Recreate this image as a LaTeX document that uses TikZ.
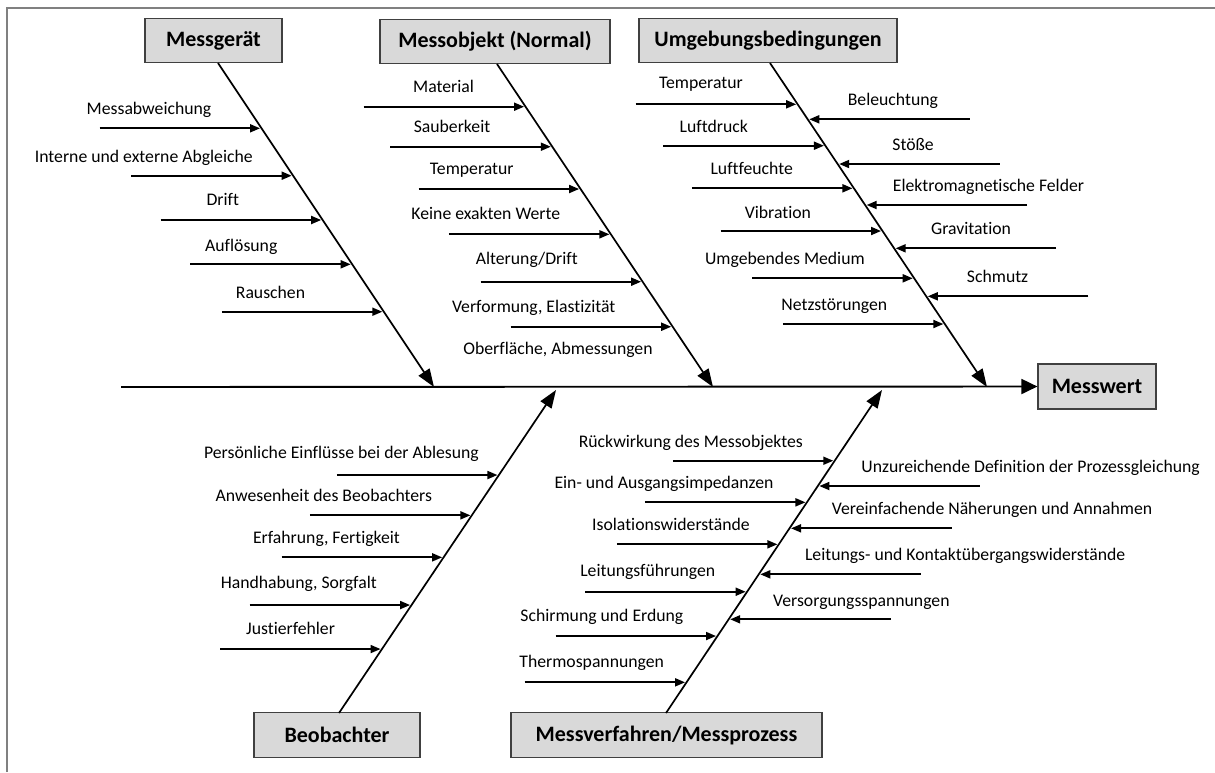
\documentclass[tikz,border=0pt]{standalone}
\usepackage{fontspec}
\setmainfont[Ligatures=NoCommon]{Carlito}
\usetikzlibrary{arrows.meta}
\begin{document}
\begin{tikzpicture}[x=1pt,y=-1pt,
    frame/.style={draw=black!50,line width=2pt},
    head/.style={draw=black!75,fill=black!15,line width=1.2pt,font=\bfseries\fontsize{22}{26}\selectfont},
    bone/.style={line width=1.7pt,-{Triangle[length=18pt,width=13pt]}},
    spine/.style={line width=1.9pt,-{Triangle[length=16pt,width=15pt]}},
    cause/.style={line width=1.8pt,shorten >=1.5pt,-{Triangle[length=10pt,width=8pt]}},
    lbl/.style={anchor=base,inner sep=0pt,font=\fontsize{17.7}{20}\selectfont}]
    \useasboundingbox (0,0) rectangle (1215,772);
    \draw[frame] (7,772) -- (7,8) -- (1215,8);

    % Kopf und Hauptgraete
    \node[head,minimum width=118pt,minimum height=45pt] (mw) at (1097,386.5) {Messwert};
    \coordinate (sp) at (121,387);
    \draw[spine] (sp) -- (mw.west);

    % Kategorien
    \node[head,minimum width=137pt,minimum height=44.5pt] (mg) at (213.5,40.5) {Messgerät};
    \node[head,minimum width=230pt,minimum height=44.5pt] (mo) at (495,41.5) {Messobjekt (Normal)};
    \node[head,minimum width=258pt,minimum height=44.5pt] (ub) at (768,40.5) {Umgebungsbedingungen};
    \node[head,minimum width=166pt,minimum height=44.5pt] (be) at (337,735) {Beobachter};
    \node[head,minimum width=311pt,minimum height=44.5pt] (mv) at (666.5,735) {Messverfahren/Messprozess};

    \coordinate (mgA) at (218,63);   \coordinate (mgB) at (434,387);
    \coordinate (moA) at (497,64);   \coordinate (moB) at (713,387);
    \coordinate (ubA) at (770,63);   \coordinate (ubB) at (987,387);
    \coordinate (beA) at (339,713);  \coordinate (beB) at (556,390);
    \coordinate (mvA) at (666,713);  \coordinate (mvB) at (882,390);
    \draw[bone] (mgA) -- (mgB);
    \draw[bone] (moA) -- (moB);
    \draw[bone] (ubA) -- (ubB);
    \draw[bone] (beA) -- (beB);
    \draw[bone] (mvA) -- (mvB);

    % Messgeraet
    \coordinate (g1) at (intersection of mgA--mgB and 0,128.3--1,128.3);
    \coordinate (g2) at (intersection of mgA--mgB and 0,175.7--1,175.7);
    \coordinate (g3) at (intersection of mgA--mgB and 0,220--1,220);
    \coordinate (g4) at (intersection of mgA--mgB and 0,264.3--1,264.3);
    \coordinate (g5) at (intersection of mgA--mgB and 0,311.7--1,311.7);
    \draw[cause] ([xshift=-162pt]g1) -- (g1);
    \draw[cause] ([xshift=-162pt]g2) -- (g2);
    \draw[cause] ([xshift=-162pt]g3) -- (g3);
    \draw[cause] ([xshift=-162pt]g4) -- (g4);
    \draw[cause] ([xshift=-162pt]g5) -- (g5);
    \node[lbl] (lg1) at (149,114) {Messabweichung};
    \node[lbl] (lg2) at (143.8,162.2) {Interne und externe Abgleiche};
    \node[lbl] (lg3) at (222.8,205.5) {Drift};
    \node[lbl] (lg4) at (241.3,251.2) {Auflösung};
    \node[lbl] (lg5) at (270.5,298.2) {Rauschen};

    % Messobjekt
    \coordinate (o1) at (intersection of moA--moB and 0,106.7--1,106.7);
    \coordinate (o2) at (intersection of moA--moB and 0,146.7--1,146.7);
    \coordinate (o3) at (intersection of moA--moB and 0,189--1,189);
    \coordinate (o4) at (intersection of moA--moB and 0,234.3--1,234.3);
    \coordinate (o5) at (intersection of moA--moB and 0,281.7--1,281.7);
    \coordinate (o6) at (intersection of moA--moB and 0,326.7--1,326.7);
    \draw[cause] ([xshift=-162pt]o1) -- (o1);
    \draw[cause] ([xshift=-162pt]o2) -- (o2);
    \draw[cause] ([xshift=-162pt]o3) -- (o3);
    \draw[cause] ([xshift=-162pt]o4) -- (o4);
    \draw[cause] ([xshift=-162pt]o5) -- (o5);
    \draw[cause] ([xshift=-162pt]o6) -- (o6);
    \node[lbl] (lo1) at (443.5,92.8) {Material};
    \node[lbl] (lo2) at (452,132.2) {Sauberkeit};
    \node[lbl] (lo3) at (471.7,174.5) {Temperatur};
    \node[lbl] (lo4) at (485.8,219.5) {Keine exakten Werte};
    \node[lbl] (lo5) at (526.8,264.8) {Alterung/Drift};
    \node[lbl] (lo6) at (533.7,312.8) {Verformung, Elastizität};
    \node[lbl] (lo7) at (558,354.5) {Oberfläche, Abmessungen};

    % Umgebungsbedingungen
    \coordinate (u1) at (intersection of ubA--ubB and 0,104.3--1,104.3);
    \coordinate (u2) at (intersection of ubA--ubB and 0,145.7--1,145.7);
    \coordinate (u3) at (intersection of ubA--ubB and 0,188.3--1,188.3);
    \coordinate (u4) at (intersection of ubA--ubB and 0,231--1,231);
    \coordinate (u5) at (intersection of ubA--ubB and 0,278.3--1,278.3);
    \coordinate (u6) at (intersection of ubA--ubB and 0,324--1,324);
    \coordinate (u7) at (intersection of ubA--ubB and 0,119.3--1,119.3);
    \coordinate (u8) at (intersection of ubA--ubB and 0,164--1,164);
    \coordinate (u9) at (intersection of ubA--ubB and 0,205--1,205);
    \coordinate (u10) at (intersection of ubA--ubB and 0,248.3--1,248.3);
    \coordinate (u11) at (intersection of ubA--ubB and 0,296.3--1,296.3);
    \draw[cause] ([xshift=-162pt]u1) -- (u1);
    \draw[cause] ([xshift=-162pt]u2) -- (u2);
    \draw[cause] ([xshift=-162pt]u3) -- (u3);
    \draw[cause] ([xshift=-162pt]u4) -- (u4);
    \draw[cause] ([xshift=-162pt]u5) -- (u5);
    \draw[cause] ([xshift=-162pt]u6) -- (u6);
    \draw[cause] ([xshift=162pt]u7) -- (u7);
    \draw[cause] ([xshift=162pt]u8) -- (u8);
    \draw[cause] ([xshift=162pt]u9) -- (u9);
    \draw[cause] ([xshift=162pt]u10) -- (u10);
    \draw[cause] ([xshift=162pt]u11) -- (u11);
    \node[lbl] (lu1) at (700.9,88.8) {Temperatur};
    \node[lbl] (lu2) at (713.8,132.2) {Luftdruck};
    \node[lbl] (lu3) at (751.7,174.2) {Luftfeuchte};
    \node[lbl] (lu4) at (777.9,218.2) {Vibration};
    \node[lbl] (lu5) at (784.9,264.8) {Umgebendes Medium};
    \node[lbl] (lu6) at (834.3,310.2) {Netzstörungen};
    \node[lbl] (lu7) at (892.9,105.5) {Beleuchtung};
    \node[lbl] (lu8) at (913.1,150.8) {Stöße};
    \node[lbl] (lu9) at (988.5,191.2) {Elektromagnetische Felder};
    \node[lbl] (lu10) at (971.1,234.8) {Gravitation};
    \node[lbl] (lu11) at (997.6,282.8) {Schmutz};

    % Beobachter
    \coordinate (b1) at (intersection of beA--beB and 0,475--1,475);
    \coordinate (b2) at (intersection of beA--beB and 0,515.3--1,515.3);
    \coordinate (b3) at (intersection of beA--beB and 0,557.3--1,557.3);
    \coordinate (b4) at (intersection of beA--beB and 0,605--1,605);
    \coordinate (b5) at (intersection of beA--beB and 0,649--1,649);
    \draw[cause] ([xshift=-162pt]b1) -- (b1);
    \draw[cause] ([xshift=-162pt]b2) -- (b2);
    \draw[cause] ([xshift=-162pt]b3) -- (b3);
    \draw[cause] ([xshift=-162pt]b4) -- (b4);
    \draw[cause] ([xshift=-162pt]b5) -- (b5);
    \node[lbl] (lb1) at (341.5,458.8) {Persönliche Einflüsse bei der Ablesung};
    \node[lbl] (lb2) at (323.8,501.5) {Anwesenheit des Beobachters};
    \node[lbl] (lb3) at (326.5,543.8) {Erfahrung, Fertigkeit};
    \node[lbl] (lb4) at (298.8,588.8) {Handhabung, Sorgfalt};
    \node[lbl] (lb5) at (290.6,634.8) {Justierfehler};

    % Messverfahren
    \coordinate (v1) at (intersection of mvA--mvB and 0,460.7--1,460.7);
    \coordinate (v2) at (intersection of mvA--mvB and 0,502.3--1,502.3);
    \coordinate (v3) at (intersection of mvA--mvB and 0,544.3--1,544.3);
    \coordinate (v4) at (intersection of mvA--mvB and 0,591.7--1,591.7);
    \coordinate (v5) at (intersection of mvA--mvB and 0,636--1,636);
    \coordinate (v6) at (intersection of mvA--mvB and 0,682.3--1,682.3);
    \coordinate (v7) at (intersection of mvA--mvB and 0,486--1,486);
    \coordinate (v8) at (intersection of mvA--mvB and 0,528.3--1,528.3);
    \coordinate (v9) at (intersection of mvA--mvB and 0,574.3--1,574.3);
    \coordinate (v10) at (intersection of mvA--mvB and 0,619.3--1,619.3);
    \draw[cause] ([xshift=-162pt]v1) -- (v1);
    \draw[cause] ([xshift=-162pt]v2) -- (v2);
    \draw[cause] ([xshift=-162pt]v3) -- (v3);
    \draw[cause] ([xshift=-162pt]v4) -- (v4);
    \draw[cause] ([xshift=-162pt]v5) -- (v5);
    \draw[cause] ([xshift=-162pt]v6) -- (v6);
    \draw[cause] ([xshift=162pt]v7) -- (v7);
    \draw[cause] ([xshift=162pt]v8) -- (v8);
    \draw[cause] ([xshift=162pt]v9) -- (v9);
    \draw[cause] ([xshift=162pt]v10) -- (v10);
    \node[lbl] (lv1) at (690.8,447.2) {Rückwirkung des Messobjektes};
    \node[lbl] (lv2) at (664,488.2) {Ein- und Ausgangsimpedanzen};
    \node[lbl] (lv3) at (671,530.5) {Isolationswiderstände};
    \node[lbl] (lv4) at (647.8,576.2) {Leitungsführungen};
    \node[lbl] (lv5) at (601.9,621.2) {Schirmung und Erdung};
    \node[lbl] (lv6) at (591.7,667.2) {Thermospannungen};
    \node[lbl] (lv7) at (1030.6,472.2) {Unzureichende Definition der Prozessgleichung};
    \node[lbl] (lv8) at (992,514.5) {Vereinfachende Näherungen und Annahmen};
    \node[lbl] (lv9) at (965.1,560.5) {Leitungs- und Kontaktübergangswiderstände};
    \node[lbl] (lv10) at (861.4,606.2) {Versorgungsspannungen};
\end{tikzpicture}
\end{document}
